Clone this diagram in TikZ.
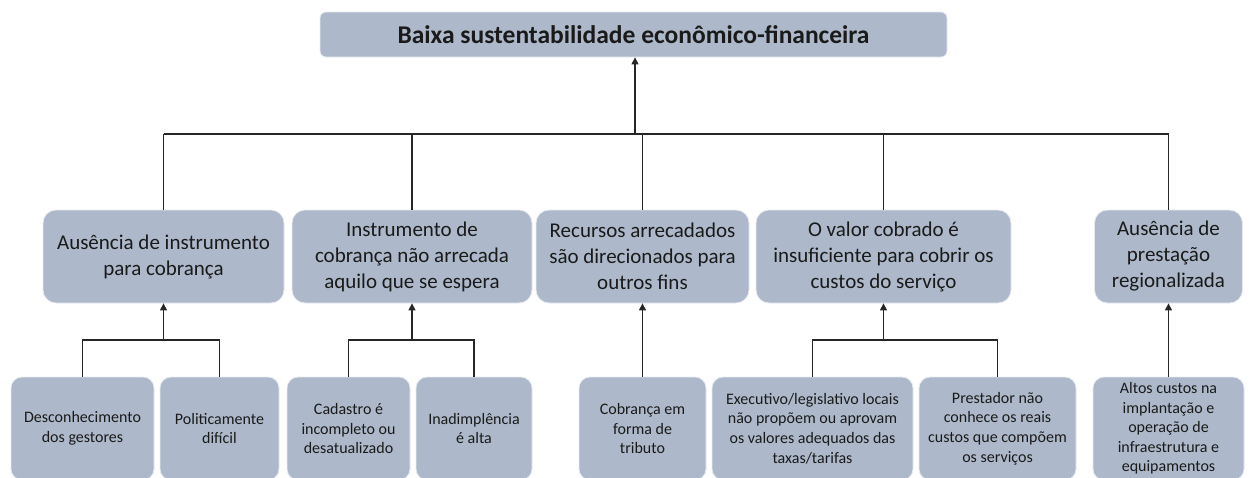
\documentclass[tikz,border=0pt]{standalone}
\usepackage{fontspec}
\setmainfont{Carlito}
\usetikzlibrary{arrows.meta}
\definecolor{boxfill}{HTML}{ADB9CA}
\definecolor{txt}{HTML}{1A1A1A}

\begin{document}
\begin{tikzpicture}[x=1pt,y=-1pt,
    topbox/.style={fill=boxfill, draw=white!70!boxfill, line width=0.8pt, rounded corners=6pt,
        minimum height=45pt, text=txt, font=\fontsize{25.5}{28}\selectfont\bfseries},
    causebox/.style={fill=boxfill, draw=white!70!boxfill, line width=0.8pt, rounded corners=13pt,
        minimum height=93pt, align=center, text=txt, font=\fontsize{21}{26}\selectfont},
    subbox/.style={fill=boxfill, draw=white!70!boxfill, line width=0.8pt, rounded corners=11pt,
        minimum height=103pt, align=center, text=txt, font=\fontsize{16}{19.6}\selectfont},
    link/.style={line width=1.4pt, draw=black!85},
    up/.style={link, -{Triangle[length=7pt,width=7pt]}}]

    \clip (0,0) rectangle (1254,477);

    % Top problem
    \node[topbox, minimum width=627pt] (top) at (633.5,34.5) {Baixa sustentabilidade econômico-financeira};

    % Causes
    \node[causebox, minimum width=241pt] (c1) at (163.5,256.5) {Ausência de instrumento\\para cobrança};
    \node[causebox, minimum width=240pt] (c2) at (412,256.5) {Instrumento de\\cobrança não arrecada\\aquilo que se espera};
    \node[causebox, minimum width=213pt] (c3) at (642.5,256.5) {Recursos arrecadados\\são direcionados para\\outros fins};
    \node[causebox, minimum width=255pt] (c4) at (883.5,256.5) {O valor cobrado é\\insuficiente para cobrir os\\custos do serviço};
    \node[causebox, minimum width=148pt] (c5) at (1168.5,256.5) {Ausência de\\prestação\\regionalizada};

    % Sub-causes
    \node[subbox, minimum width=143pt] (s1) at (82.5,428.5) {Desconhecimento\\dos gestores};
    \node[subbox, minimum width=119pt] (s2) at (219.5,428.5) {Politicamente\\difícil};
    \node[subbox, minimum width=123pt] (s3) at (348.5,428.5) {Cadastro é\\incompleto ou\\desatualizado};
    \node[subbox, minimum width=116pt] (s4) at (474,428.5) {Inadimplência\\é alta};
    \node[subbox, minimum width=127pt] (s5) at (642.5,428.5) {Cobrança em\\forma de\\tributo};
    \node[subbox, minimum width=201pt] (s6) at (812.5,428.5) {Executivo/legislativo locais\\não propõem ou aprovam\\os valores adequados das\\taxas/tarifas};
    \node[subbox, minimum width=157pt] (s7) at (997.5,428.5) {Prestador não\\conhece os reais\\custos que compõem\\os serviços};
    \node[subbox, minimum width=151pt] (s8) at (1168.5,428.5) {Altos custos na\\implantação e\\operação de\\infraestrutura e\\equipamentos};

    % Upper tree
    \coordinate (hub) at (635,134);
    \draw[link] (c1.north |- hub) -- (c5.north |- hub);
    \foreach \c in {c1,c2,c3,c4,c5}
        \draw[link] (\c.north |- hub) -- (\c.north);
    \draw[up] (hub) -- (hub |- top.south);

    % Lower tree
    \coordinate (lowbar) at (0,340);
    \foreach \c/\l/\r in {c1/s1/s2, c2/s3/s4, c4/s6/s7} {
        \draw[link] (\l.north) -- (\l.north |- lowbar) -| (\r.north);
        \draw[up] (\c.south |- lowbar) -- (\c.south);
    }
    \foreach \c/\s in {c3/s5, c5/s8}
        \draw[up] (\s.north) -- (\c.south);
\end{tikzpicture}
\end{document}
